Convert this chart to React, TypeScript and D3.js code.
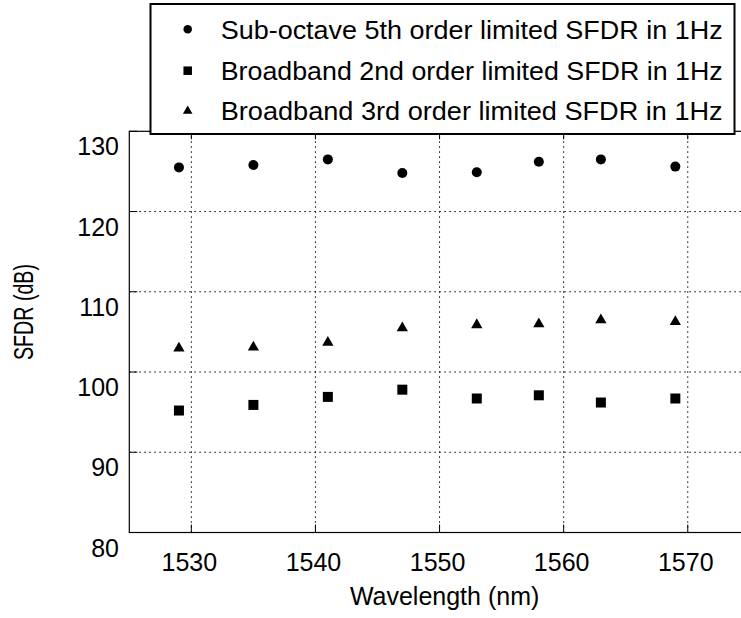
import React from "react";
import * as d3 from "d3";

const wavelengths = [1529, 1535, 1541, 1547, 1553, 1558, 1563, 1569];
const subOctave5th = [125.5, 125.8, 126.5, 124.8, 124.9, 126.2, 126.5, 125.6];
const broadband2nd = [95.2, 95.9, 96.9, 97.8, 96.7, 97.1, 96.2, 96.7];
const broadband3rd = [103.1, 103.2, 103.8, 105.6, 106.0, 106.1, 106.6, 106.4];
const xTicks = [1530, 1540, 1550, 1560, 1570];
const yTicks = [80, 90, 100, 110, 120, 130];
const legendLabels = [
  "Sub-octave 5th order limited SFDR in 1Hz",
  "Broadband 2nd order limited SFDR in 1Hz",
  "Broadband 3rd order limited SFDR in 1Hz",
];

const W = 741;
const H = 618;
const left = 129.3;
const right = 749.8;
const top = 131.3;
const bottom = 532.5;
const FONT = "Liberation Sans, Arial, Helvetica, sans-serif";

export default function App() {
  const x = d3.scaleLinear().domain([1525, 1575]).range([left, right]);
  const y = d3.scaleLinear().domain([80, 130]).range([bottom, top]);

  const tri = d3.symbol().type(d3.symbolTriangle).size(55)() as string;
  const sq = 10;
  const r = 5;

  const marker = (kind: number, cx: number, cy: number, key: string, scale = 1) => {
    if (kind === 0) return <circle key={key} cx={cx} cy={cy} r={r * scale} fill="#000" />;
    if (kind === 1)
      return (
        <rect key={key} x={cx - (sq * scale) / 2} y={cy - (sq * scale) / 2} width={sq * scale} height={sq * scale} fill="#000" />
      );
    return <path key={key} d={tri} transform={`translate(${cx},${cy + 1}) scale(${scale})`} fill="#000" />;
  };

  const series = [subOctave5th, broadband2nd, broadband3rd];

  return (
    <svg
      width={W}
      height={H}
      style={{ position: "absolute", left: 0, top: 0, background: "#fff" }}
      fontFamily={FONT}
    >
      <rect x={0} y={0} width={W} height={H} fill="#fff" />
      {xTicks.map((t) => (
        <line key={"gx" + t} x1={x(t)} x2={x(t)} y1={top} y2={bottom} stroke="#000" strokeWidth={1} strokeDasharray="1.5,3.5" />
      ))}
      {yTicks.slice(1, -1).map((t) => (
        <line key={"gy" + t} x1={left} x2={right} y1={y(t)} y2={y(t)} stroke="#000" strokeWidth={1} strokeDasharray="1.5,3.5" />
      ))}
      {xTicks.map((t) => (
        <g key={"tx" + t}>
          <line x1={x(t)} x2={x(t)} y1={bottom} y2={bottom - 8} stroke="#000" />
          <line x1={x(t)} x2={x(t)} y1={top} y2={top + 8} stroke="#000" />
        </g>
      ))}
      {yTicks.map((t) => (
        <line key={"ty" + t} x1={left} x2={left + 8} y1={y(t)} y2={y(t)} stroke="#000" />
      ))}
      <rect x={left} y={top} width={right - left} height={bottom - top} fill="none" stroke="#000" strokeWidth={1.2} />
      {xTicks.map((t) => (
        <text key={"lx" + t} x={x(t) - 2} y={571} fontSize={25} textAnchor="middle" fill="#000">
          {t}
        </text>
      ))}
      {yTicks.map((t) => (
        <text key={"ly" + t} x={119} y={y(t) + 24} fontSize={25} textAnchor="end" fill="#000">
          {t}
        </text>
      ))}
      <text x={444.6} y={605} fontSize={25} textAnchor="middle" fill="#000">
        Wavelength (nm)
      </text>
      <text
        transform={`translate(33,312) rotate(-90)`}
        fontSize={28}
        textAnchor="middle"
        fill="#000"
        textLength={96}
        lengthAdjust="spacingAndGlyphs"
      >
        SFDR (dB)
      </text>
      {series.map((s, si) => (
        <g key={"s" + si}>
          {s.map((v, i) => marker(si, x(wavelengths[i]), y(v), `m${si}-${i}`))}
        </g>
      ))}
      <rect x={150.5} y={4} width={584} height={130} fill="#fff" stroke="#000" strokeWidth={2} />
      {legendLabels.map((lab, i) => {
        const cy = [29.3, 70.7, 110][i];
        return (
          <g key={"lg" + i}>
            {marker(i, 187.7, cy, "lm" + i, 0.85)}
            <text x={220.7} y={cy + 9.5} fontSize={26} fill="#000" textLength={502} lengthAdjust="spacingAndGlyphs">
              {lab}
            </text>
          </g>
        );
      })}
    </svg>
  );
}
